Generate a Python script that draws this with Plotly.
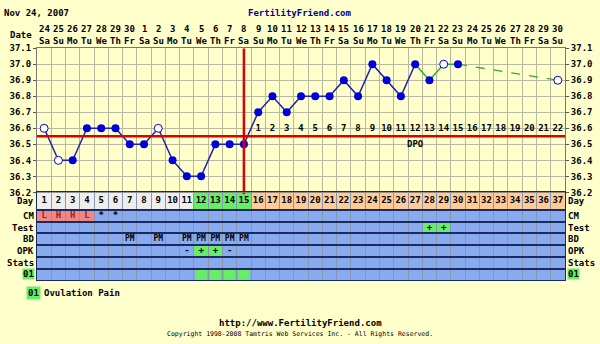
import plotly.graph_objects as go

W, H = 600, 344
FONT = "DejaVu Sans Mono"

# ---------------- data ----------------
days = list(range(1, 38))
date_labels = ["24", "25", "26", "27", "28", "29", "30"] + [str(i) for i in range(1, 31)]
weekday_cycle = ["Sa", "Su", "Mo", "Tu", "We", "Th", "Fr"]
weekday_labels = [weekday_cycle[i % 7] for i in range(37)]

temp_days = list(range(1, 31))
temps = [36.6, 36.4, 36.4, 36.6, 36.6, 36.6, 36.5, 36.5, 36.6, 36.4,
         36.3, 36.3, 36.5, 36.5, 36.5, 36.7, 36.8, 36.7, 36.8, 36.8,
         36.8, 36.9, 36.8, 37.0, 36.9, 36.8, 37.0, 36.9, 37.0, 37.0]
open_days = [1, 2, 9, 29]          # discarded / open-circle temps
green_from_day = 27                 # line turns green from here
projected_day = 37
projected_temp = 36.9

coverline = 36.55
ovulation_day = 15
dpo_days = list(range(16, 38))
dpo_labels = [str(i) for i in range(1, 23)]

temp_ticks = [36.2, 36.3, 36.4, 36.5, 36.6, 36.7, 36.8, 36.9, 37.0, 37.1]

# day-row colour groups
fertile_days = [12, 13, 14, 15]
luteal_start = 16

# lower rows
cm_days = [1, 2, 3, 4, 5, 6]
cm_vals = ["L", "H", "H", "L", "*", "*"]
test_days = [28, 29]
test_vals = ["+", "+"]
bd_days = [7, 9, 11, 12, 13, 14, 15]
bd_vals = ["PM", "PM", "PM", "PM", "PM", "PM", "PM"]
opk_days = [11, 12, 13, 14]
opk_vals = ["-", "+", "+", "-"]
o1_days = [12, 13, 14, 15]

row_names = ["Day", "CM", "Test", "BD", "OPK", "Stats", "01"]
row_heights = [18, 12, 12, 12, 12, 12, 12]

# ---------------- styling ----------------
BG = "#ffffcc"
GRID = "#b9b8a0"
BLUE_CELL = "#88aaee"
NAVY = "#1a2a60"
GREEN = "#66ee66"
PINK = "#ee8888"
DAYGRAY = "#eeeeee"
PEACH = "#ffcc99"
PT = "#0000dd"
LN = "#2222b0"
GLN = "#33aa33"
RED = "#dd0000"

x0p, x1p = 37 / W, 565 / W
temp_dom = [1 - 193 / H, 1 - 44.5 / H]
rows_dom = [1 - 283.5 / H, 1 - 193 / H]

row_top = []
acc = 0
for h in row_heights:
    row_top.append(acc)
    acc += h
rows_total = acc
row_mid = {n: row_top[i] + row_heights[i] / 2 for i, n in enumerate(row_names)}
row_span = {n: (row_top[i], row_top[i] + row_heights[i]) for i, n in enumerate(row_names)}

fig = go.Figure()

# ---------------- temperature chart ----------------
blue_x = [d for d in temp_days if d <= green_from_day]
blue_y = [t for d, t in zip(temp_days, temps) if d <= green_from_day]
green_x = [d for d in temp_days if d >= green_from_day]
green_y = [t for d, t in zip(temp_days, temps) if d >= green_from_day]

fig.add_trace(go.Scatter(x=blue_x, y=blue_y, mode="lines",
                         line=dict(color=LN, width=1.5), xaxis="x", yaxis="y"))
fig.add_trace(go.Scatter(x=green_x, y=green_y, mode="lines",
                         line=dict(color=GLN, width=1.5), xaxis="x", yaxis="y"))
fig.add_trace(go.Scatter(x=[temp_days[-1], projected_day], y=[temps[-1], projected_temp],
                         mode="lines", line=dict(color=GLN, width=1.3, dash="dash"),
                         xaxis="x", yaxis="y"))

filled_x = [d for d in temp_days if d not in open_days]
filled_y = [t for d, t in zip(temp_days, temps) if d not in open_days]
open_x = [d for d in temp_days if d in open_days] + [projected_day]
open_y = [t for d, t in zip(temp_days, temps) if d in open_days] + [projected_temp]

fig.add_trace(go.Scatter(x=filled_x, y=filled_y, mode="markers",
                         marker=dict(color=PT, size=8, line=dict(width=0)),
                         xaxis="x", yaxis="y"))
fig.add_trace(go.Scatter(x=open_x, y=open_y, mode="markers",
                         marker=dict(color="white", size=8, line=dict(color=PT, width=1)),
                         xaxis="x", yaxis="y"))

# coverline + ovulation line
fig.add_trace(go.Scatter(x=[0.5, 37.5], y=[coverline, coverline], mode="lines",
                         line=dict(color=RED, width=2.5), xaxis="x", yaxis="y"))
fig.add_trace(go.Scatter(x=[ovulation_day, ovulation_day], y=[36.2, 37.1], mode="lines",
                         line=dict(color=RED, width=2.5), xaxis="x", yaxis="y"))
fig.add_shape(type="line", xref="x2", yref="y2", x0=ovulation_day, x1=ovulation_day,
              y0=0, y1=2, line=dict(color=RED, width=2.5), layer="above")

# DPO labels
fig.add_trace(go.Scatter(x=dpo_days, y=[36.595] * len(dpo_days), mode="text",
                         text=dpo_labels,
                         textfont=dict(family=FONT, size=9, color="black", weight="bold"),
                         xaxis="x", yaxis="y"))
fig.add_annotation(x=27, y=36.505, xref="x", yref="y", text="DPO", showarrow=False,
                   yanchor="middle",
                   font=dict(family=FONT, size=9, color="black", weight="bold"))

# ---------------- lower rows ----------------
fig.add_shape(type="rect", xref="x2", yref="y2", x0=0.5, x1=37.5,
              y0=row_span["CM"][0], y1=row_span["01"][1],
              fillcolor=BLUE_CELL, line=dict(width=0), layer="below")
for d in days:
    if d in fertile_days:
        c = GREEN
    elif d >= luteal_start:
        c = PEACH
    else:
        c = DAYGRAY
    fig.add_shape(type="rect", xref="x2", yref="y2", x0=d - 0.5, x1=d + 0.5,
                  y0=row_span["Day"][0], y1=row_span["Day"][1],
                  fillcolor=c, line=dict(width=0), layer="below")


def cell(day, row, color, inset=0.0):
    y0, y1 = row_span[row]
    fig.add_shape(type="rect", xref="x2", yref="y2",
                  x0=day - 0.5 + inset, x1=day + 0.5 - inset,
                  y0=y0 + 1 + inset * 6, y1=y1 - inset * 6,
                  fillcolor=color, line=dict(width=0), layer="below")


for d, v in zip(cm_days, cm_vals):
    if v in ("L", "H"):
        cell(d, "CM", PINK)
for d, v in zip(test_days, test_vals):
    if v == "+":
        cell(d, "Test", GREEN)
for d, v in zip(opk_days, opk_vals):
    if v == "+":
        cell(d, "OPK", GREEN)
for d in o1_days:
    cell(d, "01", GREEN, inset=0.1)

fig.add_trace(go.Scatter(x=days, y=[row_mid["Day"]] * len(days), mode="text",
                         text=[str(d) for d in days],
                         textfont=dict(family=FONT, size=9, color="black", weight="bold"),
                         xaxis="x2", yaxis="y2"))
fig.add_trace(go.Scatter(x=cm_days, y=[row_mid["CM"]] * len(cm_days), mode="text",
                         text=cm_vals,
                         textfont=dict(family=FONT, size=9,
                                       color=["#992222" if v in ("L", "H") else "black" for v in cm_vals],
                                       weight="bold"),
                         xaxis="x2", yaxis="y2"))
fig.add_trace(go.Scatter(x=test_days, y=[row_mid["Test"]] * len(test_days), mode="text",
                         text=test_vals,
                         textfont=dict(family=FONT, size=9, color="black", weight="bold"),
                         xaxis="x2", yaxis="y2"))
fig.add_trace(go.Scatter(x=bd_days, y=[row_mid["BD"]] * len(bd_days), mode="text",
                         text=bd_vals,
                         textfont=dict(family=FONT, size=8, color="black", weight="bold"),
                         xaxis="x2", yaxis="y2"))
fig.add_trace(go.Scatter(x=opk_days, y=[row_mid["OPK"]] * len(opk_days), mode="text",
                         text=opk_vals,
                         textfont=dict(family=FONT, size=9, color="black", weight="bold"),
                         xaxis="x2", yaxis="y2"))

lab_font = dict(family=FONT, size=9, color="black", weight="bold")
for n in row_names:
    bg = GREEN if n == "01" else None
    fig.add_annotation(x=35 / W, xref="paper", xanchor="right", y=row_mid[n], yref="y2",
                       yanchor="middle", text=n, showarrow=False, font=lab_font,
                       bgcolor=bg, borderpad=0)
    fig.add_annotation(x=567 / W, xref="paper", xanchor="left", y=row_mid[n], yref="y2",
                       yanchor="middle", text=n, showarrow=False, font=lab_font,
                       bgcolor=bg, borderpad=0)

# ---------------- header ----------------
for i, d in enumerate(days):
    fig.add_annotation(x=d, xref="x", y=1 - 25 / H, yref="paper", text=date_labels[i],
                       yanchor="middle", showarrow=False, font=lab_font)
    fig.add_annotation(x=d, xref="x", y=1 - 37 / H, yref="paper", text=weekday_labels[i],
                       yanchor="middle", showarrow=False, font=lab_font)
fig.add_annotation(x=34 / W, xref="paper", xanchor="right", y=1 - 31 / H, yref="paper",
                   yanchor="middle", text="Date", showarrow=False, font=lab_font)
fig.add_annotation(x=2 / W, xref="paper", xanchor="left", y=1 - 8 / H, yref="paper",
                   yanchor="middle", text="Nov 24, 2007", showarrow=False, font=lab_font)
fig.add_annotation(x=0.5, xref="paper", xanchor="center", y=1 - 8 / H, yref="paper",
                   yanchor="middle", text="FertilityFriend.com", showarrow=False,
                   font=dict(family=FONT, size=9, color="#000099", weight="bold"))

# ---------------- footer ----------------
fig.add_annotation(x=26 / W, xref="paper", xanchor="left", y=1 - 297 / H, yref="paper",
                   yanchor="middle", text="01", showarrow=False, font=lab_font,
                   bgcolor=GREEN, borderpad=1)
fig.add_annotation(x=42 / W, xref="paper", xanchor="left", y=1 - 297 / H, yref="paper",
                   yanchor="middle", text="Ovulation Pain", showarrow=False, font=lab_font)
fig.add_annotation(x=0.5, xref="paper", xanchor="center", y=1 - 328 / H, yref="paper",
                   yanchor="middle", text="http://www.FertilityFriend.com",
                   showarrow=False, font=lab_font)
fig.add_annotation(x=0.5, xref="paper", xanchor="center", y=1 - 339 / H, yref="paper",
                   yanchor="middle",
                   text="Copyright 1998-2008 Tamtris Web Services Inc. - All Rights Reserved.",
                   showarrow=False, font=dict(family=FONT, size=6.5, color="black"))

# ---------------- axes ----------------
bounds = [d + 0.5 for d in days[:-1]]
tick_text = ["<b>%.1f</b>" % t for t in temp_ticks]
fig.update_layout(
    width=W, height=H, autosize=False,
    margin=dict(l=0, r=0, t=0, b=0),
    paper_bgcolor=BG, plot_bgcolor=BG,
    showlegend=False,
    xaxis=dict(domain=[x0p, x1p], range=[0.5, 37.5], anchor="y",
               tickvals=bounds, showticklabels=False, ticks="",
               showgrid=True, gridcolor=GRID, gridwidth=1, zeroline=False,
               showline=True, mirror=True, linecolor="#777777", linewidth=1),
    yaxis=dict(domain=temp_dom, range=[36.2, 37.1], anchor="x",
               tickvals=temp_ticks, ticktext=tick_text, ticks="outside", ticklen=3,
               tickcolor="#555555",
               tickfont=dict(family=FONT, size=9, color="black"),
               showgrid=True, gridcolor=GRID, gridwidth=1, zeroline=False,
               showline=True, linecolor="#777777", linewidth=1),
    yaxis3=dict(overlaying="y", side="right", anchor="x", range=[36.2, 37.1],
                tickvals=temp_ticks, ticktext=tick_text, ticks="outside", ticklen=3,
                tickcolor="#555555",
                tickfont=dict(family=FONT, size=9, color="black"),
                showgrid=False, zeroline=False,
                showline=True, linecolor="#777777", linewidth=1),
    xaxis2=dict(domain=[x0p, x1p], range=[0.5, 37.5], anchor="y2",
                tickvals=bounds, showticklabels=False, ticks="",
                showgrid=True, gridcolor="#8896b0", gridwidth=1, zeroline=False,
                showline=True, mirror=True, linecolor=NAVY, linewidth=1),
    yaxis2=dict(domain=rows_dom, range=[rows_total, 0], anchor="x2",
                tickvals=[row_top[i] for i in range(1, len(row_names))],
                showticklabels=False, ticks="",
                showgrid=True, gridcolor=NAVY, gridwidth=1.5, zeroline=False,
                showline=True, mirror=True, linecolor=NAVY, linewidth=1),
)
fig.add_trace(go.Scatter(x=[1], y=[36.2], mode="markers", marker=dict(opacity=0),
                         xaxis="x", yaxis="y3", hoverinfo="skip"))

fig.write_html("out.html")
